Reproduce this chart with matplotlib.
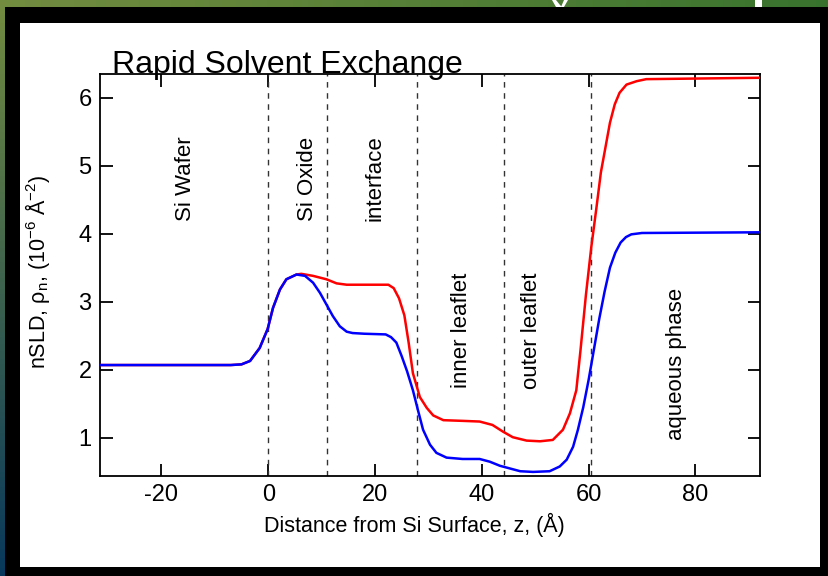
import numpy as np
import matplotlib
matplotlib.use("Agg")
import matplotlib.pyplot as plt
from matplotlib.patches import Rectangle, Polygon

plt.rcParams['font.family'] = ['Liberation Sans', 'DejaVu Sans']
plt.rcParams['mathtext.fontset'] = 'custom'
plt.rcParams['mathtext.rm'] = 'Liberation Sans'
plt.rcParams['axes.unicode_minus'] = False

# ---- data ----
z_blue = [-31.5, -10, -7, -5, -3.4, -1.6, -0.1, 0.9, 2.2, 3.4, 5.3, 6.9, 8.4, 9.7, 10.9,
          12.1, 13.4, 14.7, 15.8, 18, 22, 23, 24, 25, 26, 27.1, 28, 29, 30.3, 31.5, 33.4,
          36.4, 39.6, 41.5, 43.4, 45.3, 47.2, 49.6, 52.7, 54.6, 55.9, 57.1, 58.0, 59, 60,
          61, 62, 63, 64, 65, 66, 67, 68, 70, 92]
rho_blue = [2.07, 2.07, 2.07, 2.08, 2.13, 2.32, 2.60, 2.91, 3.18, 3.33, 3.40, 3.38, 3.28,
            3.13, 2.96, 2.79, 2.64, 2.56, 2.54, 2.53, 2.52, 2.48, 2.40, 2.20, 1.98, 1.70,
            1.42, 1.12, 0.90, 0.78, 0.71, 0.69, 0.69, 0.65, 0.59, 0.55, 0.51, 0.50, 0.51,
            0.58, 0.68, 0.87, 1.12, 1.45, 1.85, 2.30, 2.75, 3.15, 3.50, 3.72, 3.87, 3.95,
            3.99, 4.01, 4.02]

z_red = [-31.5, -10, -7, -5, -3.4, -1.6, -0.1, 0.9, 2.2, 3.4, 5.3, 6.2, 8.4, 10.9, 12.8,
         14.7, 18, 22.5, 23.5, 24.5, 25.5, 26.3, 27.1, 28.4, 29.7, 30.9, 32.8, 36.4, 39.6,
         42.0, 44.0, 45.8, 48.4, 50.9, 53.3, 55.2, 56.5, 57.7, 58.5, 59.5, 60.5, 61.5, 62.3,
         63.0, 64.0, 64.9, 65.8, 67.1, 69.0, 70.8, 92]
rho_red = [2.07, 2.07, 2.07, 2.08, 2.13, 2.32, 2.60, 2.91, 3.18, 3.33, 3.40, 3.41, 3.38,
           3.33, 3.27, 3.25, 3.25, 3.25, 3.20, 3.05, 2.80, 2.40, 1.95, 1.60, 1.44, 1.33,
           1.26, 1.25, 1.24, 1.19, 1.09, 1.01, 0.96, 0.95, 0.97, 1.12, 1.36, 1.70, 2.30,
           3.10, 3.80, 4.40, 4.90, 5.20, 5.63, 5.90, 6.07, 6.19, 6.24, 6.27, 6.29]

boundaries = [0, 11.0, 27.8, 44.2, 60.4]
regions = ['Si Wafer', 'Si Oxide', 'interface', 'inner leaflet', 'outer leaflet', 'aqueous phase']
region_x = [-15.4, 7.4, 20.0, 36.2, 49.3, 76.5]
region_y = [4.81, 4.81, 4.81, 2.58, 2.58, 2.09]

W, H = 829, 576
fig = plt.figure(figsize=(W / 100, H / 100), dpi=100)

# background: black slide with gradient strips top and left
bg = fig.add_axes([0, 0, 1, 1])
bg.set_xlim(0, W)
bg.set_ylim(H, 0)
bg.axis('off')
img = np.zeros((H, W, 3))
top_l = np.array([0.45, 0.55, 0.25])
top_r = np.array([0.22, 0.45, 0.18])
t = np.linspace(0, 1, W)[:, None]
img[:7, :, :] = (top_l * (1 - t) + top_r * t)[None, :, :]
left_b = np.array([0.03, 0.22, 0.36])
s = np.linspace(0, 1, H)[:, None]
img[:, :5, :] = (top_l * (1 - s) + left_b * s)[:, None, :]
bg.imshow(img, extent=(0, W, H, 0), aspect='auto')
# bits of the slide heading poking in at the top
bg.add_patch(Polygon([(552, 0), (556, 0), (560, 5), (562, 7), (556, 7)],
                     closed=True, facecolor='white', edgecolor='none'))
bg.add_patch(Polygon([(564, 0), (568, 0), (564, 7), (561, 7)],
                     closed=True, facecolor='white', edgecolor='none'))
bg.add_patch(Rectangle((755, 0), 7, 7, facecolor='white', edgecolor='none'))
bg.add_patch(Rectangle((20, 23), 800, 544, facecolor='white', edgecolor='none'))

ax = fig.add_axes([100 / W, 1 - 476 / H, 660 / W, (476 - 73.7) / H])
ax.plot(z_red, rho_red, color='#ff0000', lw=1.8, zorder=3)
ax.plot(z_blue, rho_blue, color='#0000ff', lw=1.8, zorder=4)
for b in boundaries:
    ax.axvline(b, color='#333333', lw=1.0, ls=(0, (4, 4)), zorder=2)
for name, x, y in zip(regions, region_x, region_y):
    ax.text(x, y, name, rotation=90, ha='center', va='center', fontsize=16)

ax.set_xlim(-31.5, 92.1)
ax.set_ylim(0.44, 6.35)
ax.set_xticks([-20, 0, 20, 40, 60, 80])
ax.set_yticks([1, 2, 3, 4, 5, 6])
ax.tick_params(direction='in', length=9, width=1.3, top=True, right=True,
               labelsize=17, pad=6)
for sp in ax.spines.values():
    sp.set_linewidth(1.3)
ax.set_xlabel('Distance from Si Surface, z, (Å)', fontsize=15.5)
ax.set_ylabel(r'nSLD, ρ$_\mathregular{n}$, (10$^\mathregular{-6}$ Å$^\mathregular{-2}$)',
              fontsize=15.5)
ax.xaxis.set_label_coords(0.476, -0.092)
ax.yaxis.set_label_coords(-0.073, 0.507)
fig.text(112 / W, 1 - 73 / H, 'Rapid Solvent Exchange', fontsize=23, va='baseline')

fig.savefig('out.png', dpi=100)
